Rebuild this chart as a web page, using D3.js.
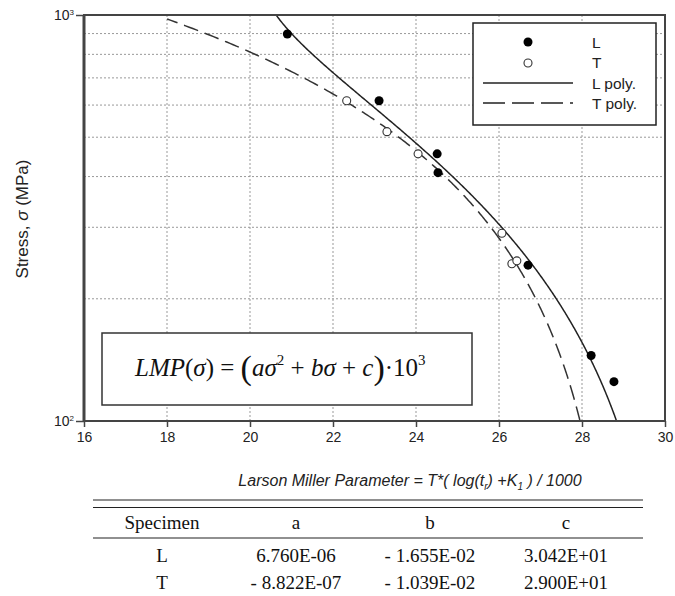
<!DOCTYPE html>
<html><head><meta charset="utf-8">
<script src="https://cdn.jsdelivr.net/npm/d3@7"></script>
<style>
body{margin:0;background:#fff;}
svg{display:block;}
</style></head>
<body>
<svg id="chart" width="675" height="596"></svg>
<script>
// ---- data ----
const seriesNames = ["L", "T"];
const lPointsLMP = [20.90, 23.11, 24.51, 24.53, 26.70, 28.22, 28.77];
const lPointsStress = [898, 615, 455, 409, 242, 145, 125];
const tPointsLMP = [22.33, 23.30, 24.05, 26.07, 26.31, 26.43];
const tPointsStress = [615, 516, 455, 290, 244, 248];
// polynomial fit coefficients LMP(σ) = (aσ² + bσ + c)  [×10³]
const specimens = ["L", "T"];
const coefA = [6.760E-06, -8.822E-07];
const coefB = [-1.655E-02, -1.039E-02];
const coefC = [3.042E+01, 2.900E+01];
const coefAText = ["6.760E-06", "- 8.822E-07"];
const coefBText = ["- 1.655E-02", "- 1.039E-02"];
const coefCText = ["3.042E+01", "2.900E+01"];
const tableHeader = ["Specimen", "a", "b", "c"];
const xTicks = [16, 18, 20, 22, 24, 26, 28, 30];
const yGrid = [200, 300, 400, 500, 600, 700, 800, 900];
const fitStartLMP = [16, 18]; // where each fitted curve begins on the chart
const legendLabels = ["L", "T", "L poly.", "T poly."];

// ---- layout ----
const svg = d3.select("#chart");
const M = {left: 84, top: 15, right: 665, bottom: 421};
const x = d3.scaleLinear().domain([16, 30]).range([M.left, M.right]);
const y = d3.scaleLog().domain([100, 1000]).range([M.bottom, M.top]);
const sans = "Liberation Sans, Arial, sans-serif";
const serif = "Liberation Serif, Times New Roman, serif";

svg.append("rect").attr("width", 675).attr("height", 596).attr("fill", "#fff");

const defs = svg.append("defs");
defs.append("clipPath").attr("id", "plotclip").append("rect")
  .attr("x", M.left).attr("y", M.top).attr("width", M.right - M.left).attr("height", M.bottom - M.top);

// grid
const grid = svg.append("g").attr("stroke", "#999").attr("stroke-width", 1).attr("stroke-dasharray", "2,2");
xTicks.slice(1, -1).forEach(v => {
  grid.append("line").attr("x1", x(v)).attr("x2", x(v)).attr("y1", M.top).attr("y2", M.bottom);
});
yGrid.forEach(v => {
  grid.append("line").attr("x1", M.left).attr("x2", M.right).attr("y1", y(v)).attr("y2", y(v));
});

// fitted curves
const stressSamples = d3.range(0, 301).map(i => Math.pow(10, 2 + i / 300));
const lineGen = d3.line().x(d => x(d[0])).y(d => y(d[1]));
const curves = svg.append("g").attr("clip-path", "url(#plotclip)").attr("fill", "none");
specimens.forEach((s, i) => {
  const pts = stressSamples
    .map(sig => [coefA[i] * sig * sig + coefB[i] * sig + coefC[i], sig])
    .filter(p => p[0] >= fitStartLMP[i]);
  curves.append("path").datum(pts).attr("d", lineGen)
    .attr("stroke", i === 0 ? "#222" : "#333")
    .attr("stroke-width", 1.5)
    .attr("stroke-dasharray", i === 0 ? null : "15,7");
});

// points
const pg = svg.append("g");
lPointsLMP.forEach((v, i) => {
  pg.append("circle").attr("cx", x(v)).attr("cy", y(lPointsStress[i])).attr("r", 4.5).attr("fill", "#000");
});
tPointsLMP.forEach((v, i) => {
  pg.append("circle").attr("cx", x(v)).attr("cy", y(tPointsStress[i])).attr("r", 4)
    .attr("fill", "#fff").attr("stroke", "#333").attr("stroke-width", 1.1);
});

// axes
const xAxis = d3.axisBottom(x).tickValues(xTicks).tickSize(6).tickPadding(5);
const gx = svg.append("g").attr("transform", `translate(0,${M.bottom})`).call(xAxis);
gx.select(".domain").remove();
gx.selectAll("line").attr("stroke", "#444").attr("stroke-width", 1.5);
gx.selectAll("text").attr("font-family", sans).attr("font-size", 14).attr("fill", "#222");

const yAxis = d3.axisLeft(y).tickValues([100, 1000]).tickSize(8).tickFormat("");
const gy = svg.append("g").attr("transform", `translate(${M.left},0)`).call(yAxis);
gy.select(".domain").remove();
gy.selectAll("line").attr("stroke", "#444").attr("stroke-width", 1.5);
[[100, "2"], [1000, "3"]].forEach(([v, e]) => {
  const t = svg.append("text").attr("x", 74).attr("y", y(v) + 5).attr("text-anchor", "end")
    .attr("font-family", sans).attr("font-size", 14).attr("fill", "#222");
  t.append("tspan").text("10");
  t.append("tspan").attr("font-size", 8).attr("dy", -5).text(e);
});

// frame
svg.append("rect").attr("x", M.left).attr("y", M.top).attr("width", M.right - M.left).attr("height", M.bottom - M.top)
  .attr("fill", "none").attr("stroke", "#444").attr("stroke-width", 2);
svg.append("line").attr("x1", M.left).attr("x2", M.left).attr("y1", M.top).attr("y2", M.bottom)
  .attr("stroke", "#444").attr("stroke-width", 3);

// axis titles
const yt = svg.append("text").attr("transform", `translate(28,219) rotate(-90)`).attr("text-anchor", "middle")
  .attr("font-family", sans).attr("font-size", 17).attr("fill", "#222");
yt.append("tspan").text("Stress, ");
yt.append("tspan").attr("font-style", "italic").text("σ");
yt.append("tspan").text(" (MPa)");

const xt = svg.append("text").attr("x", 410).attr("y", 486).attr("text-anchor", "middle")
  .attr("font-family", sans).attr("font-size", 16).attr("font-style", "italic").attr("fill", "#222");
xt.append("tspan").text("Larson Miller Parameter = T*( log(");
xt.append("tspan").text("t");
xt.append("tspan").attr("font-size", 10).attr("dy", 4).text("r");
xt.append("tspan").attr("dy", -4).text(") +K");
xt.append("tspan").attr("font-size", 10).attr("dy", 4).text("1");
xt.append("tspan").attr("dy", -4).text(" ) / 1000");

// legend
const lg = svg.append("g");
lg.append("rect").attr("x", 473).attr("y", 23).attr("width", 183).attr("height", 102)
  .attr("fill", "#fff").attr("stroke", "#222").attr("stroke-width", 1.5);
lg.append("circle").attr("cx", 528).attr("cy", 42).attr("r", 4.5).attr("fill", "#000");
lg.append("circle").attr("cx", 528).attr("cy", 63).attr("r", 4).attr("fill", "#fff").attr("stroke", "#333").attr("stroke-width", 1.1);
lg.append("line").attr("x1", 483).attr("x2", 573).attr("y1", 83).attr("y2", 83).attr("stroke", "#222").attr("stroke-width", 1.5);
lg.append("line").attr("x1", 483).attr("x2", 573).attr("y1", 103).attr("y2", 103).attr("stroke", "#222").attr("stroke-width", 1.5).attr("stroke-dasharray", "22,7");
legendLabels.forEach((t, i) => {
  lg.append("text").attr("x", 592).attr("y", 47.5 + i * 20.5).text(t)
    .attr("font-family", sans).attr("font-size", 15.5).attr("fill", "#222");
});

// formula box
svg.append("rect").attr("x", 102).attr("y", 333).attr("width", 370).attr("height", 72)
  .attr("fill", "#fff").attr("stroke", "#333").attr("stroke-width", 1.5);
const ft = svg.append("text").attr("x", 135).attr("y", 376)
  .attr("font-family", serif).attr("font-size", 25).attr("fill", "#111");
ft.append("tspan").attr("font-style", "italic").text("LMP");
ft.append("tspan").text("(");
ft.append("tspan").attr("font-style", "italic").text("σ");
ft.append("tspan").text(") = ");
ft.append("tspan").attr("font-size", 34).attr("dy", 3).text("(");
ft.append("tspan").attr("font-style", "italic").attr("dy", -3).text("aσ");
ft.append("tspan").attr("font-size", 15).attr("dy", -11).text("2");
ft.append("tspan").attr("dy", 11).text(" + ");
ft.append("tspan").attr("font-style", "italic").text("bσ");
ft.append("tspan").text(" + ");
ft.append("tspan").attr("font-style", "italic").text("c");
ft.append("tspan").attr("font-size", 34).attr("dy", 3).text(")");
ft.append("tspan").attr("dy", -3).text("·10");
ft.append("tspan").attr("font-size", 15).attr("dy", -11).text("3");

// table
const tb = svg.append("g").attr("stroke", "#222");
tb.append("line").attr("x1", 93).attr("x2", 643).attr("y1", 500).attr("y2", 500).attr("stroke-width", 1.2);
tb.append("line").attr("x1", 93).attr("x2", 643).attr("y1", 507.5).attr("y2", 507.5).attr("stroke-width", 1.2);
tb.append("line").attr("x1", 93).attr("x2", 643).attr("y1", 538).attr("y2", 538).attr("stroke-width", 1.2);
const colX = [162, 296, 430, 566];
tableHeader.forEach((h, i) => {
  svg.append("text").attr("x", colX[i]).attr("y", 529).attr("text-anchor", "middle")
    .attr("font-family", serif).attr("font-size", 19).attr("fill", "#111").text(h);
});
specimens.forEach((s, r) => {
  const yy = 562 + r * 27;
  [s, coefAText[r], coefBText[r], coefCText[r]].forEach((v, i) => {
    svg.append("text").attr("x", colX[i]).attr("y", yy).attr("text-anchor", "middle")
      .attr("font-family", serif).attr("font-size", 19).attr("fill", "#111").text(v);
  });
});
</script>
</body></html>
